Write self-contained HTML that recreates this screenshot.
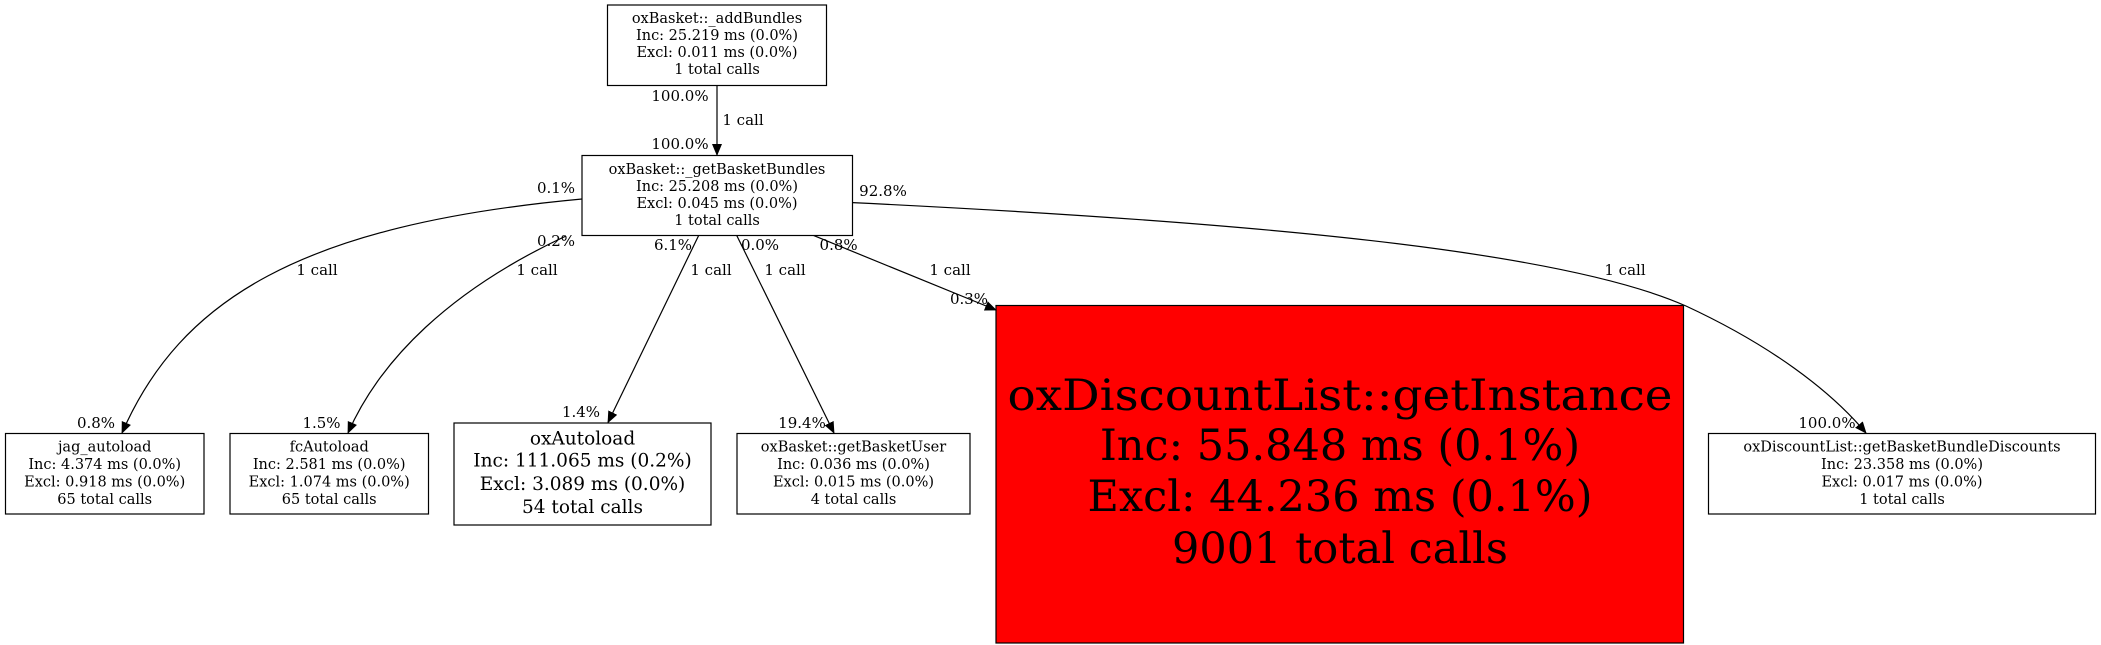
<!DOCTYPE html>
<html><head><meta charset="utf-8"><style>
html,body{margin:0;padding:0;background:#fff;}
svg{display:block;}
text{font-family:"DejaVu Serif","Liberation Serif",serif;fill:#000;}
.s{font-size:14.5px;}
.l{font-size:15px;}
.m{font-size:18.5px;}
.b{font-size:43px;}
</style></head><body>
<svg width="2101" height="645" viewBox="0 0 2101 645" xmlns="http://www.w3.org/2000/svg">
<defs>
<marker id="a" markerWidth="12" markerHeight="10" refX="11" refY="5" orient="auto" markerUnits="userSpaceOnUse">
<path d="M0,0 L12,5 L0,10 Z" fill="#000"/>
</marker>
</defs>
<g fill="none" stroke="#000" stroke-width="1.2">
<rect x="607.5" y="5" width="219" height="80.5" fill="#fff"/>
<rect x="582" y="155.5" width="270.5" height="80" fill="#fff"/>
<rect x="5.5" y="433.5" width="198.5" height="80.5" fill="#fff"/>
<rect x="230" y="433.5" width="198.5" height="80.5" fill="#fff"/>
<rect x="454" y="423" width="257" height="102" fill="#fff"/>
<rect x="737" y="433.5" width="233" height="80.5" fill="#fff"/>
<rect x="996" y="305.5" width="687.5" height="337.5" fill="#ff0000"/>
<rect x="1708.5" y="433.5" width="387" height="80.5" fill="#fff"/>
<path d="M717,85.5 L717,155" marker-end="url(#a)"/>
<path d="M582,199 C300,225 180,300 122,433" marker-end="url(#a)"/>
<path d="M566,236 C450,290 380,360 348,433" marker-end="url(#a)"/>
<path d="M698.6,235.6 L608,422.5" marker-end="url(#a)"/>
<path d="M736.8,235.6 L834,433" marker-end="url(#a)"/>
<path d="M813.8,235.6 L996,310" marker-end="url(#a)"/>
<path d="M852.6,202.6 C1250,222 1560,250 1686,306 C1770,345 1830,390 1866,433" marker-end="url(#a)"/>
</g>
<g text-anchor="middle" class="s">
<text x="717" y="23">oxBasket::_addBundles</text>
<text x="717" y="40">Inc: 25.219 ms (0.0%)</text>
<text x="717" y="57">Excl: 0.011 ms (0.0%)</text>
<text x="717" y="74">1 total calls</text>
<text x="717" y="174">oxBasket::_getBasketBundles</text>
<text x="717" y="191">Inc: 25.208 ms (0.0%)</text>
<text x="717" y="208">Excl: 0.045 ms (0.0%)</text>
<text x="717" y="225">1 total calls</text>
<text x="104.7" y="451.5">jag_autoload</text>
<text x="104.7" y="469">Inc: 4.374 ms (0.0%)</text>
<text x="104.7" y="486.5">Excl: 0.918 ms (0.0%)</text>
<text x="104.7" y="504">65 total calls</text>
<text x="329.2" y="451.5">fcAutoload</text>
<text x="329.2" y="469">Inc: 2.581 ms (0.0%)</text>
<text x="329.2" y="486.5">Excl: 1.074 ms (0.0%)</text>
<text x="329.2" y="504">65 total calls</text>
<text x="853.5" y="451.5">oxBasket::getBasketUser</text>
<text x="853.5" y="469">Inc: 0.036 ms (0.0%)</text>
<text x="853.5" y="486.5">Excl: 0.015 ms (0.0%)</text>
<text x="853.5" y="504">4 total calls</text>
<text x="1902" y="451.5">oxDiscountList::getBasketBundleDiscounts</text>
<text x="1902" y="469">Inc: 23.358 ms (0.0%)</text>
<text x="1902" y="486.5">Excl: 0.017 ms (0.0%)</text>
<text x="1902" y="504">1 total calls</text>
</g>
<g text-anchor="middle" class="m">
<text x="582.5" y="444.5">oxAutoload</text>
<text x="582.5" y="466.5">Inc: 111.065 ms (0.2%)</text>
<text x="582.5" y="490">Excl: 3.089 ms (0.0%)</text>
<text x="582.5" y="513">54 total calls</text>
</g>
<g text-anchor="middle" class="b">
<text x="1340" y="410" textLength="665" lengthAdjust="spacingAndGlyphs">oxDiscountList::getInstance</text>
<text x="1340" y="460">Inc: 55.848 ms (0.1%)</text>
<text x="1340" y="511">Excl: 44.236 ms (0.1%)</text>
<text x="1340" y="563">9001 total calls</text>
</g>
<g text-anchor="middle" class="l">
<text x="680" y="101">100.0%</text>
<text x="743" y="125">1 call</text>
<text x="680" y="149">100.0%</text>
<text x="556" y="193">0.1%</text>
<text x="317" y="275">1 call</text>
<text x="96" y="428">0.8%</text>
<text x="556" y="246">0.2%</text>
<text x="537" y="275">1 call</text>
<text x="321.5" y="428">1.5%</text>
<text x="673" y="250">6.1%</text>
<text x="711" y="275">1 call</text>
<text x="581" y="417">1.4%</text>
<text x="760" y="250">0.0%</text>
<text x="785" y="275">1 call</text>
<text x="802" y="428">19.4%</text>
<text x="838.6" y="250">0.8%</text>
<text x="950" y="275">1 call</text>
<text x="969" y="304">0.3%</text>
<text x="883" y="196">92.8%</text>
<text x="1625" y="275">1 call</text>
<text x="1827" y="428">100.0%</text>
</g>
</svg>
</body></html>
